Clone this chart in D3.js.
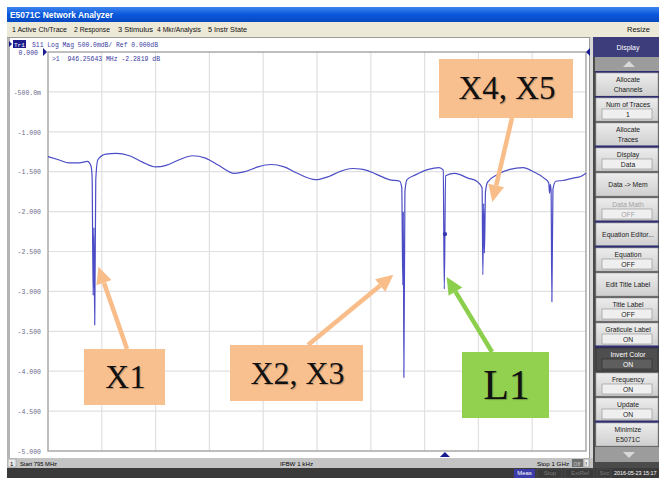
<!DOCTYPE html>
<html><head><meta charset="utf-8">
<script src="https://cdn.jsdelivr.net/npm/d3@7"></script>
<style>body{margin:0;background:#fff;overflow:hidden}svg{display:block}</style>
</head><body>
<svg id="c" width="659" height="478"></svg>
<script>
// ---------------- data ----------------
const startMHz = 795, stopMHz = 1000;
const freqMHz = [795, 799, 803, 807, 810, 811.3, 811.8, 812.2, 812.5, 812.8, 813.2, 814, 817, 821, 826, 831, 836, 840, 845, 850, 855, 860, 866, 870, 875, 880, 885, 890, 897, 902, 906, 911, 915, 920, 925, 929, 929.8, 930.2, 930.4, 930.6, 931.0, 931.8, 935, 940, 944, 945.6, 946.0, 946.5, 950, 955, 958.4, 960.4, 960.7, 961.0, 961.3, 961.7, 962.5, 966, 971, 976, 980, 984, 985.8, 986.1, 986.4, 986.7, 987.0, 987.4, 988.5, 991, 995, 998, 1000];
const s11dB   = [-1.31, -1.35, -1.39, -1.39, -1.37, -1.42, -1.55, -3.05, -2.2, -3.42, -1.6, -1.35, -1.28, -1.27, -1.30, -1.38, -1.44, -1.42, -1.35, -1.30, -1.33, -1.42, -1.52, -1.50, -1.44, -1.41, -1.44, -1.52, -1.60, -1.56, -1.50, -1.46, -1.47, -1.53, -1.60, -1.62, -1.70, -2.92, -2.0, -4.08, -1.75, -1.60, -1.54, -1.47, -1.45, -1.48, -2.97, -1.55, -1.52, -1.58, -1.62, -1.70, -2.79, -1.90, -2.52, -1.75, -1.63, -1.54, -1.47, -1.45, -1.50, -1.58, -1.64, -1.77, -1.66, -1.74, -3.13, -1.72, -1.62, -1.61, -1.58, -1.56, -1.52];
const yTickValues = [0, -0.5, -1, -1.5, -2, -2.5, -3, -3.5, -4, -4.5, -5];
const yTickLabels = ["0.000", "-500.0m", "-1.000", "-1.500", "-2.000", "-2.500", "-3.000", "-3.500", "-4.000", "-4.500", "-5.000"];
const xDivisions = 10;
const markerFreq = 946.25643, markerDB = -2.2819;
const markerText = ">1  946.25643 MHz -2.2819 dB";
const traceHeader = "S11 Log Mag 500.0mdB/ Ref 0.000dB";
const annotLabels = ["X1", "X2, X3", "L1", "X4, X5"];
const annotTargetFreq = [814.2, 926.6, 946.9, 964.3];
const annotTargetDB = [-2.69, -2.79, -2.82, -1.88];
const menuItems = ["1 Active Ch/Trace", "2 Response", "3 Stimulus", "4 Mkr/Analysis", "5 Instr State"];
const softkeyTitles = ["Allocate", "Num of Traces", "Allocate", "Display", "Data -> Mem", "Data Math", "Equation Editor...", "Equation", "Edit Title Label", "Title Label", "Graticule Label", "Invert Color", "Frequency", "Update", "Minimize"];
const softkeySecond = ["Channels", null, "Traces", null, null, null, null, null, null, null, null, null, null, null, "E5071C"];
const softkeyValues = [null, "1", null, "Data", null, "OFF", null, "OFF", null, "OFF", "ON", "ON", "ON", "ON", null];
const statusItems = ["Meas", "Stop", "ExtRef", "Svc", "2016-05-23 15:17"];

// ---------------- layout ----------------
const W = 659, H = 478;
const plot = {l: 48, r: 586, t: 52, b: 451};
const svg = d3.select("#c");
const x = d3.scaleLinear().domain([startMHz, stopMHz]).range([plot.l, plot.r]);
const y = d3.scaleLinear().domain([-5, 0]).range([plot.b, plot.t]);
const sans = "Liberation Sans, Arial, sans-serif";
const mono = "Liberation Mono, DejaVu Sans Mono, monospace";

const defs = svg.append("defs");
const g1 = defs.append("linearGradient").attr("id", "tb").attr("x1", 0).attr("y1", 0).attr("x2", 0).attr("y2", 1);
g1.append("stop").attr("offset", 0).attr("stop-color", "#3d85f0");
g1.append("stop").attr("offset", 0.5).attr("stop-color", "#0a58dc");
g1.append("stop").attr("offset", 1).attr("stop-color", "#0748c0");
const g2 = defs.append("linearGradient").attr("id", "btn").attr("x1", 0).attr("y1", 0).attr("x2", 0).attr("y2", 1);
g2.append("stop").attr("offset", 0).attr("stop-color", "#ececec");
g2.append("stop").attr("offset", 1).attr("stop-color", "#cfcfcf");

// app window background
svg.append("rect").attr("x", 0).attr("y", 0).attr("width", W).attr("height", H).attr("fill", "#fff");
// title bar
svg.append("rect").attr("x", 7).attr("y", 7).attr("width", W - 7).attr("height", 15).attr("fill", "url(#tb)");
svg.append("text").attr("x", 10).attr("y", 18).attr("fill", "#fff").attr("font-family", sans).attr("font-weight", "bold")
  .attr("font-size", 8.5).attr("textLength", 103).attr("lengthAdjust", "spacingAndGlyphs").text("E5071C Network Analyzer");
// menu bar
svg.append("rect").attr("x", 7).attr("y", 22).attr("width", W - 7).attr("height", 15).attr("fill", "#ece9d8");
const menuX = [12, 74, 118, 157, 208], menuW = [55, 36, 35, 44, 39];
svg.selectAll(".menu").data(menuItems).join("text").attr("class", "menu")
  .attr("x", (d, i) => menuX[i]).attr("y", 32).attr("font-family", sans).attr("font-size", 7.5)
  .attr("textLength", (d, i) => menuW[i]).attr("lengthAdjust", "spacingAndGlyphs").attr("fill", "#111").text(d => d);
svg.append("text").attr("x", 627).attr("y", 32).attr("font-family", sans).attr("font-size", 7.5).attr("fill", "#111").text("Resize");

// chart window
svg.append("rect").attr("x", 7).attr("y", 37).attr("width", 586).attr("height", 421).attr("fill", "#fff");
svg.append("rect").attr("x", 7).attr("y", 37).attr("width", 3).attr("height", 421).attr("fill", "#b4b4b4");
svg.append("line").attr("x1", 7).attr("x2", 593).attr("y1", 37.5).attr("y2", 37.5).attr("stroke", "#9a9a9a");
svg.append("rect").attr("x", 589).attr("y", 37).attr("width", 4).attr("height", 421).attr("fill", "#d8d8d8");
svg.append("line").attr("x1", 589.5).attr("x2", 589.5).attr("y1", 37).attr("y2", 458).attr("stroke", "#9a9a9a");

// trace header
svg.append("path").attr("d", "M9,41 L12,44 L9,47 Z").attr("fill", "#1a1a90");
svg.append("rect").attr("x", 13).attr("y", 40).attr("width", 13).attr("height", 8).attr("fill", "#1c1c8a");
svg.append("text").attr("x", 14).attr("y", 46.5).attr("fill", "#fff").attr("font-family", mono).attr("font-size", 6).text("Tr1");
svg.append("text").attr("x", 32).attr("y", 47).attr("fill", "#3a3aa0").attr("font-family", mono).attr("font-size", 6.3)
  .attr("textLength", 126).attr("lengthAdjust", "spacingAndGlyphs").text(traceHeader);

// grid
const grid = svg.append("g");
grid.selectAll(".vg").data(d3.range(1, xDivisions)).join("line")
  .attr("x1", i => x(startMHz + i * (stopMHz - startMHz) / xDivisions)).attr("x2", i => x(startMHz + i * (stopMHz - startMHz) / xDivisions))
  .attr("y1", plot.t).attr("y2", plot.b).attr("stroke", "#e0e0e0").attr("stroke-width", 1.2);
grid.selectAll(".hg").data(yTickValues.slice(1, -1)).join("line")
  .attr("x1", plot.l).attr("x2", plot.r).attr("y1", d => y(d)).attr("y2", d => y(d)).attr("stroke", "#e0e0e0").attr("stroke-width", 1.2);
svg.append("rect").attr("x", plot.l).attr("y", plot.t).attr("width", plot.r - plot.l).attr("height", plot.b - plot.t)
  .attr("fill", "none").attr("stroke", "#a9a9a9").attr("stroke-width", 1.5);

// y axis labels
const yAxis = d3.axisLeft(y).tickValues(yTickValues).tickFormat((d, i) => yTickLabels[i]).tickSize(0).tickPadding(0);
const ya = svg.append("g").attr("transform", `translate(41,0)`).call(yAxis);
ya.select(".domain").remove();
ya.selectAll("text").attr("font-family", mono).attr("font-size", 6.5).attr("fill", (d, i) => i === 0 ? "#3a3aa0" : "#6a6a8a").attr("dy", "0.35em");
ya.selectAll("text").filter((d, i) => i === 0).attr("x", -3);
// reference markers
svg.append("path").attr("d", `M43,${y(0) - 4} L47,${y(0)} L43,${y(0) + 4} Z`).attr("fill", "#1a1a90");
svg.append("path").attr("d", `M${plot.r + 4},${y(0) - 4} L${plot.r},${y(0)} L${plot.r + 4},${y(0) + 4} Z`).attr("fill", "#1a1a90");

// marker readout
svg.append("text").attr("x", 52).attr("y", 61).attr("fill", "#3a3aa0").attr("font-family", mono).attr("font-size", 6.3)
  .attr("textLength", 108).attr("lengthAdjust", "spacingAndGlyphs").attr("xml:space", "preserve").text(markerText);

// trace
const pts = freqMHz.map((f, i) => [f, s11dB[i]]);
svg.append("path").datum(pts).attr("fill", "none").attr("stroke", "#4c4cc6").attr("stroke-width", 1.2)
  .attr("stroke-linejoin", "round")
  .attr("d", d3.line().x(d => x(d[0])).y(d => y(d[1])).curve(d3.curveMonotoneX));
svg.append("circle").attr("cx", x(markerFreq)).attr("cy", y(markerDB)).attr("r", 2.2).attr("fill", "#3a3ab0");
svg.append("path").attr("d", `M${x(markerFreq) - 5},${plot.b + 6} L${x(markerFreq)},${plot.b + 1} L${x(markerFreq) + 5},${plot.b + 6} Z`).attr("fill", "#1a1a90");

// annotations
const boxes = [
  {x: 84, y: 349, w: 81, h: 56, fill: "#f9c08f", fs: 33, base: [127, 349]},
  {x: 230, y: 345, w: 133, h: 56, fill: "#f9c08f", fs: 32, base: [308, 345]},
  {x: 462, y: 352, w: 87, h: 66, fill: "#92d050", fs: 42, base: [492, 352]},
  {x: 439, y: 59, w: 134, h: 59, fill: "#f9c08f", fs: 33, base: [512, 118]}
];
const arrowCol = ["#f9bd8a", "#f9bd8a", "#8ccf4c", "#f9bd8a"];
annotLabels.forEach((lab, i) => {
  const b = boxes[i];
  const tx = x(annotTargetFreq[i]), ty = y(annotTargetDB[i]);
  const dx = tx - b.base[0], dy = ty - b.base[1], len = Math.hypot(dx, dy);
  const ux = dx / len, uy = dy / len, hl = 17, hw = 8;
  const hx = tx - ux * hl, hy = ty - uy * hl;
  svg.append("line").attr("x1", b.base[0]).attr("y1", b.base[1]).attr("x2", hx).attr("y2", hy)
    .attr("stroke", arrowCol[i]).attr("stroke-width", 4.5);
  svg.append("path").attr("d", `M${tx},${ty} L${hx - uy * hw},${hy + ux * hw} L${hx + uy * hw},${hy - ux * hw} Z`).attr("fill", arrowCol[i]);
  svg.append("rect").attr("x", b.x).attr("y", b.y).attr("width", b.w).attr("height", b.h).attr("fill", b.fill);
  svg.append("text").attr("x", b.x + b.w / 2 + 1).attr("y", b.y + b.h / 2 + b.fs * 0.33).attr("text-anchor", "middle")
    .attr("font-family", "Liberation Serif, Times New Roman, serif").attr("font-size", b.fs).attr("fill", "#111")
    .style("text-shadow", "1px 1px 1px rgba(0,0,0,0.25)").text(lab);
});

// status bar
svg.append("rect").attr("x", 7).attr("y", 458).attr("width", 588).attr("height", 10).attr("fill", "#c4c4c4");
svg.append("rect").attr("x", 8).attr("y", 459).attr("width", 8).attr("height", 8).attr("fill", "#e8e8e8").attr("stroke", "#888").attr("stroke-width", 0.5);
svg.append("text").attr("x", 10).attr("y", 465.5).attr("font-family", sans).attr("font-size", 6).text("1");
svg.append("text").attr("x", 20).attr("y", 465.5).attr("font-family", sans).attr("font-size", 6).attr("textLength", 37).attr("lengthAdjust", "spacingAndGlyphs").text("Start 795 MHz");
svg.append("text").attr("x", 280).attr("y", 465.5).attr("font-family", sans).attr("font-size", 6).attr("textLength", 33).attr("lengthAdjust", "spacingAndGlyphs").text("IFBW 1 kHz");
svg.append("text").attr("x", 537).attr("y", 465.5).attr("font-family", sans).attr("font-size", 6).attr("textLength", 32).attr("lengthAdjust", "spacingAndGlyphs").text("Stop 1 GHz");
svg.append("rect").attr("x", 572).attr("y", 459).attr("width", 11).attr("height", 8).attr("fill", "#6e6e6e");
svg.append("text").attr("x", 573.5).attr("y", 465.5).attr("font-family", sans).attr("font-size", 5).attr("fill", "#ccc").text("Off");
svg.append("rect").attr("x", 584).attr("y", 459).attr("width", 5).attr("height", 8).attr("fill", "#eee").attr("stroke", "#777").attr("stroke-width", 0.5);
svg.append("text").attr("x", 585.3).attr("y", 465.5).attr("font-family", sans).attr("font-size", 6).text("!");

// bottom bar
svg.append("rect").attr("x", 7).attr("y", 468).attr("width", W - 7).attr("height", 10).attr("fill", "#3a3a3a");
const stX = [514, 538, 566, 598, 614], stW = [21, 24, 28, 13, 42];
statusItems.forEach((s, i) => {
  if (i === 0) svg.append("rect").attr("x", stX[i]).attr("y", 469).attr("width", stW[i]).attr("height", 9).attr("fill", "#3c3ca8");
  if (i > 0 && i < 4) svg.append("rect").attr("x", stX[i] - 1).attr("y", 469).attr("width", stW[i] + 1).attr("height", 9).attr("fill", "none").attr("stroke", "#555").attr("stroke-width", 0.6);
  svg.append("text").attr("x", stX[i] + (i === 4 ? 0 : stW[i] / 2)).attr("y", 475.3).attr("text-anchor", i === 4 ? "start" : "middle")
    .attr("font-family", sans).attr("font-size", i === 4 ? 5.4 : 6).attr("fill", i === 0 || i === 4 ? "#fff" : "#7a7a7a").text(s);
});

// right softkey panel
const px = 593, pw = W - 593;
svg.append("rect").attr("x", px).attr("y", 37).attr("width", pw).attr("height", 431).attr("fill", "#4a4a4a");
svg.append("rect").attr("x", px).attr("y", 37).attr("width", pw).attr("height", 20).attr("fill", "#3d3d7c");
svg.append("text").attr("x", px + pw / 2 + 2).attr("y", 49.5).attr("text-anchor", "middle").attr("fill", "#fff").attr("font-family", sans).attr("font-size", 7).text("Display");
svg.append("rect").attr("x", px + 2).attr("y", 57).attr("width", pw - 2).attr("height", 14).attr("fill", "#9c9c9c");
svg.append("path").attr("d", `M${px + 30},${67} L${px + 36},${61} L${px + 42},${67} Z`).attr("fill", "#d8d8d8");
svg.append("rect").attr("x", px + 2).attr("y", 447).attr("width", pw - 2).attr("height", 15).attr("fill", "#9c9c9c");
svg.append("path").attr("d", `M${px + 30},${452} L${px + 36},${458} L${px + 42},${452} Z`).attr("fill", "#d8d8d8");
const sepThick = [2, 5, 6, 10, 13];
const top0 = 72, bh = 25;
svg.append("rect").attr("x", px + 2).attr("y", 71).attr("width", pw - 2).attr("height", 2).attr("fill", "#2e2e6e");
softkeyTitles.forEach((t, i) => {
  const by = top0 + i * bh;
  const dark = i === 11, dis = i === 5;
  svg.append("rect").attr("x", px + 3).attr("y", by + 1).attr("width", pw - 4).attr("height", bh - 2)
    .attr("fill", dark ? "#4e4e4e" : "url(#btn)").attr("stroke", dark ? "#333" : "#a8a8a8").attr("stroke-width", 0.7);
  const tc = dark ? "#fff" : dis ? "#a4a4a4" : "#1a1a1a";
  const cx = px + pw / 2 + 2;
  if (softkeyValues[i] !== null) {
    svg.append("text").attr("x", cx).attr("y", by + 9.5).attr("text-anchor", "middle").attr("fill", tc).attr("font-family", sans).attr("font-size", 6.8).text(t);
    svg.append("rect").attr("x", px + 9).attr("y", by + 12).attr("width", pw - 16).attr("height", 10)
      .attr("fill", dark ? "#5e5e5e" : "#efefef").attr("stroke", dark ? "#2a2a2a" : "#8e8e8e").attr("stroke-width", 0.6);
    svg.append("text").attr("x", cx).attr("y", by + 20).attr("text-anchor", "middle").attr("fill", tc).attr("font-family", sans).attr("font-size", 6.8).text(softkeyValues[i]);
  } else if (softkeySecond[i] !== null) {
    svg.append("text").attr("x", cx).attr("y", by + 10).attr("text-anchor", "middle").attr("fill", tc).attr("font-family", sans).attr("font-size", 6.8).text(t);
    svg.append("text").attr("x", cx).attr("y", by + 19.5).attr("text-anchor", "middle").attr("fill", tc).attr("font-family", sans).attr("font-size", 6.8).text(softkeySecond[i]);
  } else {
    svg.append("text").attr("x", cx).attr("y", by + 15).attr("text-anchor", "middle").attr("fill", tc).attr("font-family", sans).attr("font-size", 6.8).text(t);
  }
  if (sepThick.includes(i)) svg.append("rect").attr("x", px + 2).attr("y", by + bh - 1.5).attr("width", pw - 2).attr("height", 3).attr("fill", "#2e2e6e");
  if (i === 0) svg.append("rect").attr("x", px + 2).attr("y", by + bh - 1).attr("width", pw - 2).attr("height", 2).attr("fill", "#2e2e6e");
});
</script>
</body></html>
